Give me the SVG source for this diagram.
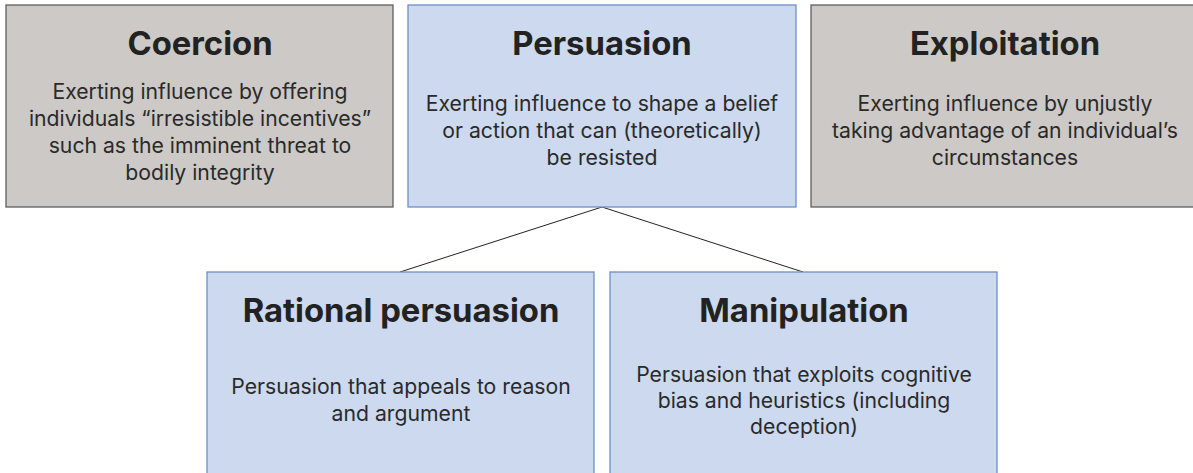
<svg xmlns="http://www.w3.org/2000/svg" width="1193" height="473" viewBox="0 0 1193 473">
<style>
.gray{fill:#ccc9c6;stroke:#5f5f5f;stroke-width:1.3}
.blue{fill:#ccd9ee;stroke:#6d8fc9;stroke-width:1.3}
.t{font-family:Inter,"Liberation Sans",sans-serif;font-weight:700;font-size:32.8px;fill:#222;text-anchor:middle}
.b{font-family:Inter,"Liberation Sans",sans-serif;font-size:21.2px;fill:#2a2a2a;text-anchor:middle}
.c{stroke:#222;stroke-width:1;fill:none}
</style>
<rect width="1193" height="473" fill="#fff"/>
<g id="connectors">
<line class="c" x1="602" y1="207" x2="400" y2="272"/>
<line class="c" x1="602" y1="207" x2="803" y2="272"/>
</g>
<g id="coercion">
<rect class="gray" x="6" y="5" width="387" height="202"/>
<text class="t" x="200" y="55">Coercion</text>
<text class="b" x="200" y="99">Exerting influence by offering</text>
<text class="b" x="200" y="126">individuals “irresistible incentives”</text>
<text class="b" x="200" y="153">such as the imminent threat to</text>
<text class="b" x="200" y="180">bodily integrity</text>
</g>
<g id="persuasion">
<rect class="blue" x="408" y="5" width="388" height="202"/>
<text class="t" x="602" y="55">Persuasion</text>
<text class="b" x="602" y="111">Exerting influence to shape a belief</text>
<text class="b" x="602" y="138">or action that can (theoretically)</text>
<text class="b" x="602" y="165">be resisted</text>
</g>
<g id="exploitation">
<rect class="gray" x="811" y="5" width="390" height="202"/>
<text class="t" x="1005" y="55">Exploitation</text>
<text class="b" x="1005" y="111">Exerting influence by unjustly</text>
<text class="b" x="1005" y="138">taking advantage of an individual’s</text>
<text class="b" x="1005" y="165">circumstances</text>
</g>
<g id="rational">
<rect class="blue" x="207" y="272" width="387" height="210"/>
<text class="t" x="401" y="322">Rational persuasion</text>
<text class="b" x="401" y="394">Persuasion that appeals to reason</text>
<text class="b" x="401" y="421">and argument</text>
</g>
<g id="manipulation">
<rect class="blue" x="610" y="272" width="387" height="210"/>
<text class="t" x="804" y="322">Manipulation</text>
<text class="b" x="804" y="382">Persuasion that exploits cognitive</text>
<text class="b" x="804" y="408">bias and heuristics (including</text>
<text class="b" x="804" y="434">deception)</text>
</g>
</svg>
